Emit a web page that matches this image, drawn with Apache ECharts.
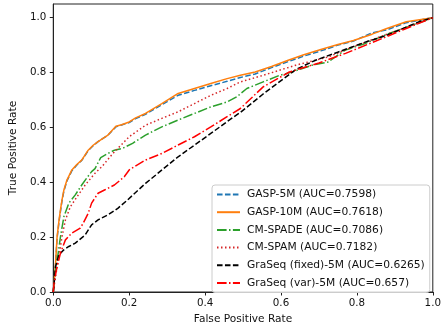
<!DOCTYPE html>
<html>
<head>
<meta charset="utf-8">
<script src="https://cdn.jsdelivr.net/npm/echarts@6/dist/echarts.min.js"></script>
<style>html,body{margin:0;padding:0;background:#fff;}#c{width:444px;height:332px;}</style>
</head>
<body>
<div id="c"></div>
<script>
var seriesNames = ['GASP-5M (AUC=0.7598)','GASP-10M (AUC=0.7618)','CM-SPADE (AUC=0.7086)','CM-SPAM (AUC=0.7182)','GraSeq (fixed)-5M (AUC=0.6265)','GraSeq (var)-5M (AUC=0.657)'];
var tickValues = [0, 0.2, 0.4, 0.6, 0.8, 1.0];

var gasp5m = [[0,0],[0.002,0.03],[0.006,0.1],[0.010,0.195],[0.015,0.255],[0.019,0.295],[0.023,0.332],[0.028,0.368],[0.036,0.405],[0.049,0.442],[0.062,0.463],[0.075,0.48],[0.092,0.515],[0.105,0.533],[0.118,0.548],[0.144,0.572],[0.165,0.602],[0.18,0.609],[0.2,0.618],[0.217,0.632],[0.243,0.648],[0.286,0.683],[0.329,0.717],[0.372,0.735],[0.415,0.752],[0.458,0.768],[0.493,0.782],[0.532,0.795],[0.575,0.818],[0.619,0.84],[0.66,0.86],[0.705,0.879],[0.75,0.9],[0.791,0.915],[0.84,0.945],[0.877,0.955],[0.93,0.982],[1,1]];
var gasp10m = [[0,0],[0.002,0.03],[0.006,0.105],[0.010,0.2],[0.015,0.26],[0.019,0.3],[0.023,0.336],[0.028,0.372],[0.036,0.408],[0.049,0.445],[0.062,0.465],[0.075,0.481],[0.092,0.517],[0.105,0.535],[0.118,0.548],[0.144,0.572],[0.165,0.604],[0.18,0.61],[0.2,0.62],[0.217,0.635],[0.243,0.651],[0.286,0.687],[0.329,0.724],[0.372,0.742],[0.415,0.76],[0.458,0.778],[0.493,0.79],[0.532,0.802],[0.575,0.822],[0.619,0.845],[0.66,0.865],[0.705,0.884],[0.75,0.902],[0.791,0.917],[0.84,0.94],[0.877,0.96],[0.93,0.985],[1,1]];
var cmSpade = [[0,0],[0.003,0.04],[0.006,0.081],[0.013,0.142],[0.019,0.202],[0.028,0.275],[0.041,0.324],[0.058,0.354],[0.075,0.39],[0.088,0.415],[0.101,0.439],[0.11,0.45],[0.125,0.49],[0.144,0.505],[0.161,0.517],[0.183,0.524],[0.209,0.542],[0.243,0.572],[0.286,0.602],[0.329,0.627],[0.372,0.651],[0.415,0.675],[0.458,0.693],[0.484,0.712],[0.51,0.742],[0.553,0.766],[0.596,0.79],[0.622,0.799],[0.682,0.827],[0.725,0.839],[0.768,0.881],[0.82,0.905],[0.88,0.94],[0.94,0.97],[1,1]];
var cmSpam = [[0,0],[0.003,0.03],[0.006,0.057],[0.015,0.13],[0.023,0.202],[0.032,0.263],[0.045,0.311],[0.066,0.354],[0.084,0.39],[0.11,0.433],[0.13,0.46],[0.157,0.505],[0.2,0.566],[0.243,0.608],[0.286,0.633],[0.329,0.657],[0.372,0.687],[0.415,0.717],[0.458,0.742],[0.493,0.766],[0.553,0.79],[0.639,0.827],[0.725,0.857],[0.777,0.887],[0.85,0.925],[0.92,0.96],[1,1]];
var graseqFixed = [[0,0],[0.002,0.03],[0.006,0.093],[0.015,0.136],[0.028,0.154],[0.041,0.166],[0.058,0.178],[0.084,0.208],[0.101,0.245],[0.118,0.263],[0.144,0.281],[0.17,0.305],[0.196,0.336],[0.243,0.396],[0.329,0.493],[0.415,0.578],[0.467,0.63],[0.493,0.655],[0.553,0.722],[0.639,0.811],[0.691,0.845],[0.751,0.875],[0.82,0.91],[0.877,0.935],[0.963,0.985],[1,1]];
var graseqVar = [[0,0],[0.002,0.033],[0.010,0.093],[0.019,0.142],[0.032,0.19],[0.049,0.215],[0.071,0.233],[0.079,0.251],[0.092,0.287],[0.101,0.324],[0.118,0.36],[0.135,0.372],[0.161,0.39],[0.187,0.42],[0.2,0.445],[0.243,0.481],[0.286,0.505],[0.329,0.536],[0.372,0.566],[0.415,0.602],[0.458,0.639],[0.493,0.669],[0.553,0.748],[0.622,0.802],[0.7,0.835],[0.77,0.87],[0.85,0.915],[0.92,0.955],[1,1]];

var FONT = 'DejaVu Sans';
var chart = echarts.init(document.getElementById('c'), null, {renderer: 'canvas'});
function mk(name, data, color, type) {
  return {
    name: name, type: 'line', data: data, symbol: 'none', animation: false,
    lineStyle: {color: color, width: 1.5, type: type},
    itemStyle: {color: color}
  };
}
chart.setOption({
  animation: false,
  backgroundColor: '#fff',
  grid: {left: 49, right: 8, top: 4, bottom: 40, show: true, borderColor: '#222', borderWidth: 1, backgroundColor: '#fff'},
  xAxis: {
    type: 'value', min: 0, max: 1, interval: 0.2,
    name: 'False Positive Rate', nameLocation: 'middle', nameGap: 22,
    nameTextStyle: {fontFamily: FONT, fontSize: 10.6, color: '#111'},
    axisLine: {show: true, lineStyle: {color: '#222', width: 1}},
    axisTick: {show: true, inside: false, length: 3.5, lineStyle: {color: '#222'}, customValues: tickValues},
    axisLabel: {fontFamily: FONT, fontSize: 10.3, color: '#111', margin: 6, customValues: tickValues,
      formatter: function (v) { return v.toFixed(1); }},
    splitLine: {show: false}
  },
  yAxis: {
    type: 'value', min: 0, max: 1.05, interval: 0.2,
    name: 'True Positive Rate', nameLocation: 'middle', nameGap: 31,
    nameTextStyle: {fontFamily: FONT, fontSize: 10.6, color: '#111'},
    axisLine: {show: true, lineStyle: {color: '#222', width: 1}},
    axisTick: {show: true, inside: false, length: 3.5, lineStyle: {color: '#222'}, customValues: tickValues},
    axisLabel: {fontFamily: FONT, fontSize: 10.3, color: '#111', margin: 7, customValues: tickValues,
      formatter: function (v) { return v.toFixed(1); }},
    splitLine: {show: false}
  },
  legend: {
    orient: 'vertical', left: 212, top: 185,
    padding: [4, 5, 4, 4],
    itemWidth: 23, itemHeight: 10, itemGap: 6.7,
    itemStyle: {opacity: 0},
    backgroundColor: 'rgba(255,255,255,0.8)', borderColor: '#cccccc', borderWidth: 1, borderRadius: 3,
    textStyle: {fontFamily: FONT, fontSize: 10.7, color: '#111', padding: [0, 0, 0, 2]},
    data: seriesNames
  },
  series: [
    mk(seriesNames[0], gasp5m, '#1f77b4', [5.55, 2.4]),
    mk(seriesNames[1], gasp10m, '#ff7f0e', 'solid'),
    mk(seriesNames[2], cmSpade, '#2ca02c', [9.6, 2.4, 1.5, 2.4]),
    mk(seriesNames[3], cmSpam, '#d62728', [1.5, 2.5]),
    mk(seriesNames[4], graseqFixed, '#000000', [5.55, 2.4]),
    mk(seriesNames[5], graseqVar, '#ff0000', [9.6, 2.4, 1.5, 2.4])
  ]
});
</script>
</body>
</html>
